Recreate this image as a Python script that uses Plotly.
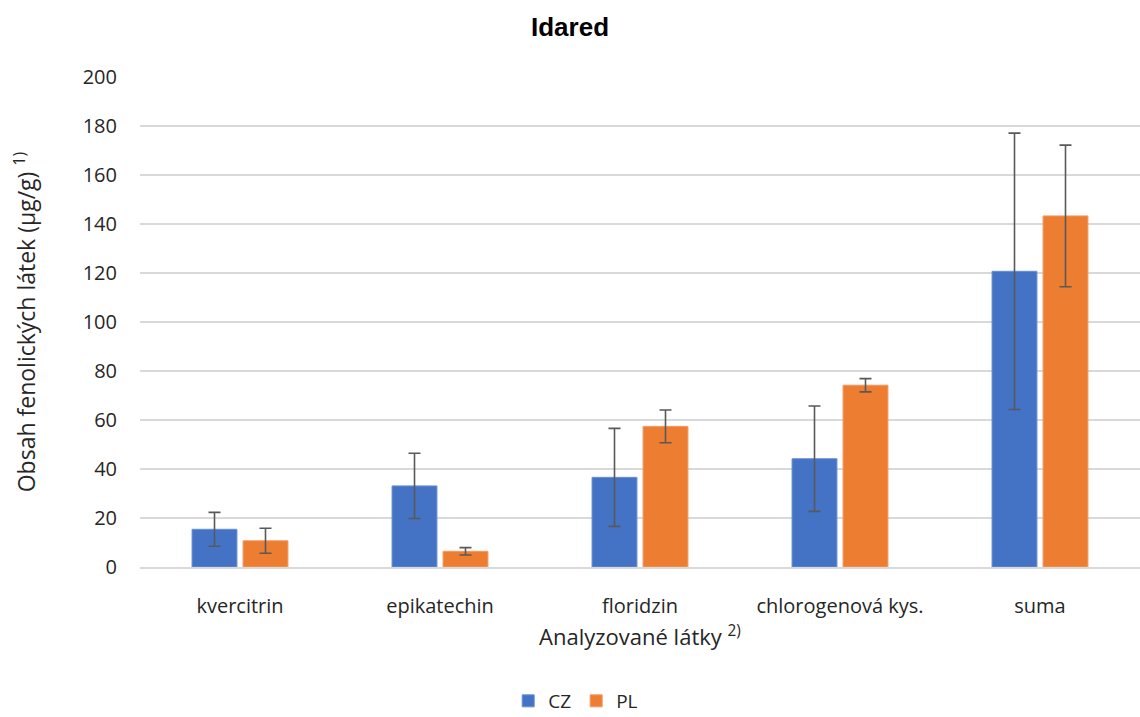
import plotly.graph_objects as go

categories = ["kvercitrin", "epikatechin", "floridzin", "chlorogenová kys.", "suma"]
cz_values = [15.4, 33.1, 36.6, 44.2, 120.7]
cz_errors = [6.9, 13.3, 20.0, 21.5, 56.4]
pl_values = [10.7, 6.4, 57.4, 74.2, 143.3]
pl_errors = [5.1, 1.5, 6.7, 2.7, 28.9]
y_ticks = [0, 20, 40, 60, 80, 100, 120, 140, 160, 180, 200]

font_main = "Open Sans, Liberation Sans, Arial, sans-serif"
err_style = dict(type="data", visible=True, color="#595959", thickness=1.6, width=6)

fig = go.Figure()
fig.add_trace(go.Bar(
    x=categories, y=cz_values, name="CZ",
    marker=dict(color="#4472C4", line=dict(color="#6a8fd3", width=1)),
    error_y=dict(array=cz_errors, **err_style),
))
fig.add_trace(go.Bar(
    x=categories, y=pl_values, name="PL",
    marker=dict(color="#ED7D31", line=dict(color="#f29a63", width=1)),
    error_y=dict(array=pl_errors, **err_style),
))

fig.update_layout(
    width=1140, height=717,
    paper_bgcolor="white", plot_bgcolor="white",
    margin=dict(l=140, r=0, t=77, b=150),
    barmode="group", bargap=0.49, bargroupgap=0.12,
    title=dict(text="<b>Idared</b>", x=0.5, xref="container", xanchor="center",
               y=1 - 27 / 717, yref="container", yanchor="middle",
               font=dict(family="Liberation Sans, Arial, sans-serif", size=26, color="black")),
    font=dict(family=font_main, size=20, color="#262626"),
    legend=dict(orientation="h", x=0.505, xref="container", xanchor="center",
                y=1 - 701 / 717, yref="container", yanchor="middle",
                font=dict(size=19, color="#262626"), itemwidth=30, traceorder="normal"),
    showlegend=True,
)
fig.update_yaxes(
    range=[0, 200], tickvals=y_ticks, ticktext=[str(v) for v in y_ticks],
    showgrid=True, gridcolor="#d9d9d9", gridwidth=1.5,
    zeroline=False, showline=False, ticks="", ticklabelstandoff=22,
    tickfont=dict(size=20, color="#262626"),
    title=dict(text="Obsah fenolických látek (µg/g) <sup>1)</sup>", standoff=40,
               font=dict(size=23, color="#262626")),
)
fig.update_xaxes(
    showline=True, linecolor="#d9d9d9", linewidth=1.5, ticks="",
    ticklabelstandoff=20,
    tickfont=dict(size=20, color="#262626"),
    title=dict(text="Analyzované látky <sup>2)</sup>", standoff=12,
               font=dict(size=22, color="#262626")),
)

fig.write_html("out.html", config={"displayModeBar": False},
               post_script="document.body.style.margin='0';document.body.style.overflow='hidden';")
